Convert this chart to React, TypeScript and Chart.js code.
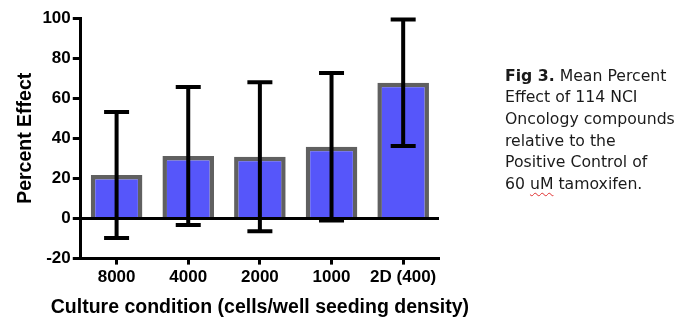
import React, { useEffect, useRef } from "react";
import { Chart, registerables } from "chart.js";

Chart.register(...registerables);

const categories = ["8000", "4000", "2000", "1000", "2D (400)"];
const meanEffect = [21.7, 31.2, 30.8, 35.8, 67.7];
const sdEffect = [31.4, 34.4, 37.1, 36.8, 31.6];
const yTicks = [-20, 0, 20, 40, 60, 80, 100];
const xTitle = "Culture condition (cells/well seeding density)";
const yTitle = "Percent Effect";

const FONT = "'Liberation Sans', Arial, sans-serif";

const overlayPlugin = {
  id: "overlay",
  afterDatasetsDraw(chart: any) {
    const ctx = chart.ctx;
    const x = chart.scales.x;
    const y = chart.scales.y;
    const area = chart.chartArea;
    ctx.save();
    // zero line
    ctx.strokeStyle = "#000";
    ctx.lineWidth = 3;
    ctx.beginPath();
    const y0 = y.getPixelForValue(0);
    ctx.moveTo(area.left, y0);
    ctx.lineTo(area.right, y0);
    ctx.stroke();
    // error bars
    ctx.lineWidth = 4;
    ctx.lineCap = "butt";
    const half = 12.5;
    meanEffect.forEach((m, i) => {
      const cx = x.getPixelForValue(i);
      const yt = y.getPixelForValue(m + sdEffect[i]);
      const yb = y.getPixelForValue(m - sdEffect[i]);
      ctx.beginPath();
      ctx.moveTo(cx, yt);
      ctx.lineTo(cx, yb);
      ctx.moveTo(cx - half, yt);
      ctx.lineTo(cx + half, yt);
      ctx.moveTo(cx - half, yb);
      ctx.lineTo(cx + half, yb);
      ctx.stroke();
    });
    // x axis title (drawn without width compression)
    ctx.fillStyle = "#000";
    ctx.font = "bold 19.5px " + FONT;
    ctx.textAlign = "center";
    ctx.textBaseline = "middle";
    ctx.fillText(xTitle, (area.left + area.right) / 2, area.bottom + 49);
    ctx.restore();
  },
};

function ChartView() {
  const ref = useRef<HTMLCanvasElement>(null);
  useEffect(() => {
    const chart = new Chart(ref.current as HTMLCanvasElement, {
      type: "bar",
      data: {
        labels: categories,
        datasets: [
          {
            data: meanEffect,
            backgroundColor: "#5656FA",
            borderColor: "#606060",
            borderWidth: 4.5,
            categoryPercentage: 0.8,
            barPercentage: 0.9,
          },
        ],
      },
      options: {
        responsive: false,
        animation: false,
        layout: { padding: { left: 10, top: 18, right: 249, bottom: 36 } },
        plugins: { legend: { display: false }, tooltip: { enabled: false } },
        scales: {
          x: {
            grid: {
              offset: false,
              drawOnChartArea: false,
              tickLength: 6,
              tickWidth: 3,
              tickColor: "#000",
            },
            border: { color: "#000", width: 3 },
            ticks: {
              color: "#000",
              font: { family: FONT, size: 17, weight: "bold" },
              padding: 3,
              maxRotation: 0,
            },
          },
          y: {
            min: -20,
            max: 100,
            afterBuildTicks: (s: any) => {
              s.ticks = yTicks.map((v) => ({ value: v }));
            },
            grid: {
              drawOnChartArea: false,
              tickLength: 8,
              tickWidth: 3,
              tickColor: "#000",
            },
            border: { color: "#000", width: 3 },
            ticks: {
              color: "#000",
              font: { family: FONT, size: 17, weight: "bold" },
              padding: 2,
            },
            title: {
              display: true,
              text: yTitle,
              color: "#000",
              font: { family: FONT, size: 19.5, weight: "bold" },
              padding: { top: 4, bottom: 3 },
            },
          },
        },
      },
      plugins: [overlayPlugin],
    });
    return () => chart.destroy();
  }, []);
  return <canvas ref={ref} width={688} height={327} style={{ display: "block" }} />;
}

export default function App() {
  return (
    <div style={{ position: "absolute", left: 0, top: 0, width: 688, height: 327, background: "#fff" }}>
      <ChartView />
      <div
        style={{
          position: "absolute",
          left: 505,
          top: 64.5,
          fontFamily: "'DejaVu Sans', Verdana, sans-serif",
          fontSize: 15.7,
          lineHeight: "21.67px",
          color: "#1a1a1a",
          whiteSpace: "nowrap",
        }}
      >
        <b>Fig 3.</b> Mean Percent
        <br />
        Effect of 114 NCI
        <br />
        Oncology compounds
        <br />
        relative to the
        <br />
        Positive Control of
        <br />
        60{" "}
        <span style={{ textDecoration: "underline wavy #e03030", textDecorationThickness: 1, textUnderlineOffset: 3 }}>
          uM
        </span>{" "}
        tamoxifen.
      </div>
    </div>
  );
}
